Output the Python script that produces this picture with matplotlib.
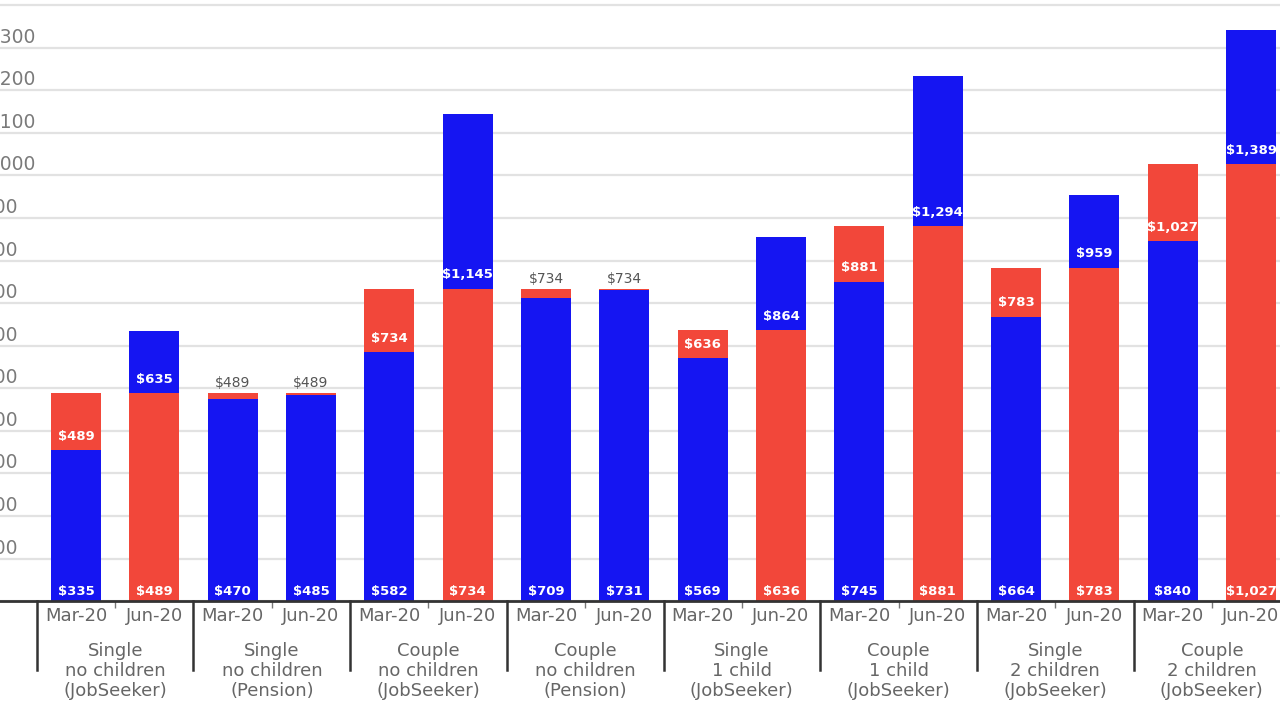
import matplotlib.pyplot as plt
import matplotlib.transforms as mtransforms
import numpy as np

groups = ["Single\nno children\n(JobSeeker)", "Single\nno children\n(Pension)",
          "Couple\nno children\n(JobSeeker)", "Couple\nno children\n(Pension)",
          "Single\n1 child\n(JobSeeker)", "Couple\n1 child\n(JobSeeker)",
          "Single\n2 children\n(JobSeeker)", "Couple\n2 children\n(JobSeeker)"]
periods = ["Mar-20", "Jun-20"]

# per bar, Mar-20 then Jun-20 for each group (printed values)
red_vals = [489, 489, 489, 489, 734, 734, 734, 734,
            636, 636, 881, 881, 783, 783, 1027, 1027]
blue_vals = [335, 635, 470, 485, 582, 1145, 709, 731,
             569, 864, 745, 1294, 664, 959, 840, 1389]
# blue bar heights as drawn in the original (a few don't match their labels)
blue_drawn = [355, 635, 475, 485, 585, 1145, 712, 731,
              571, 855, 750, 1233, 668, 955, 845, 1341]
yticks = list(range(0, 1500, 100))

RED = "#f2473a"
BLUE = "#1515f2"

red = np.array(red_vals)
blue = np.array(blue_drawn)
blue_lab = np.array(blue_vals)
x = np.arange(len(red))
red_back = red >= blue_lab

fig = plt.figure(figsize=(12.8, 7.2), dpi=100)
ax = fig.add_axes([0, 0.165, 1, 0.835])

# larger value behind, smaller in front
ax.bar(x[red_back], red[red_back], width=0.64, color=RED, zorder=2)
ax.bar(x[~red_back], blue[~red_back], width=0.64, color=BLUE, zorder=2)
ax.bar(x[red_back], blue[red_back], width=0.64, color=BLUE, zorder=3)
ax.bar(x[~red_back], red[~red_back], width=0.64, color=RED, zorder=3)

for i in x:
    if red_back[i]:
        f_lab, f_h, b_lab, b_h = blue_lab[i], blue[i], red[i], red[i]
    else:
        f_lab, f_h, b_lab, b_h = red[i], red[i], blue_lab[i], blue[i]
    ax.annotate(f"${f_lab:,}", (i, 0), xytext=(0, 7), textcoords="offset points",
                ha="center", va="center", color="white", fontsize=9.5,
                fontweight="bold", zorder=4)
    if b_h - f_h > 40:
        ax.annotate(f"${b_lab:,}", (i, f_h), xytext=(0, 10),
                    textcoords="offset points", ha="center", va="center",
                    color="white", fontsize=9.5, fontweight="bold", zorder=4)
    else:
        ax.annotate(f"${b_lab:,}", (i, b_h), xytext=(0, 2),
                    textcoords="offset points", ha="center", va="bottom",
                    color="#555555", fontsize=10, zorder=4)

ax.set_xlim(-0.97, 15.37)
ax.set_ylim(0, 1412)

ax.set_yticks(yticks)
ax.set_yticklabels([])
ax.tick_params(axis="y", length=0)
ax.yaxis.grid(True, color="#e2e2e2", lw=1.6)
ax.set_axisbelow(True)

ytrans = mtransforms.blended_transform_factory(ax.transAxes, ax.transData)
ytrans = ytrans + mtransforms.ScaledTranslation(-30 / 100, 1 / 100, fig.dpi_scale_trans)
for v in yticks[1:]:
    ax.text(0, v, f"${v:,}", transform=ytrans, ha="left", va="bottom",
            color="#7a7a7a", fontsize=13.5, clip_on=False)

ax.set_xticks(x, labels=periods * len(groups))
ax.tick_params(axis="x", length=0, pad=4, labelsize=13, labelcolor="#666666")
ax.set_xticks(np.arange(len(groups)) * 2 + 0.5, minor=True)
ax.tick_params(axis="x", which="minor", length=5, width=1, color="#777777")

for s in ["top", "left", "right"]:
    ax.spines[s].set_visible(False)
ax.spines["bottom"].set_color("#333333")
ax.spines["bottom"].set_linewidth(2)
ax.spines["bottom"].set_zorder(5)

xtrans = mtransforms.blended_transform_factory(ax.transData, ax.transAxes)
for g in range(len(groups) + 1):
    ax.plot([2 * g - 0.5, 2 * g - 0.5], [0, -0.114], transform=xtrans,
            color="#333333", lw=1.8, clip_on=False)
for g, name in enumerate(groups):
    ax.text(2 * g + 0.5, -0.068, name, transform=xtrans, ha="center", va="top",
            color="#666666", fontsize=13, linespacing=1.15)

fig.savefig("out.png", dpi=100)
